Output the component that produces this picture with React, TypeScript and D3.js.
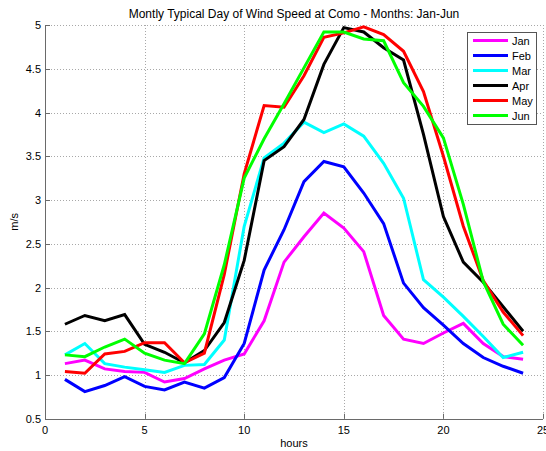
import React, { useEffect, useRef } from "react";
import * as d3 from "d3";

const hours = [1, 2, 3, 4, 5, 6, 7, 8, 9, 10, 11, 12, 13, 14, 15, 16, 17, 18, 19, 20, 21, 22, 23, 24];

const jan = [1.13, 1.17, 1.07, 1.04, 1.03, 0.92, 0.96, 1.07, 1.17, 1.24, 1.62, 2.29, 2.58, 2.85, 2.68, 2.41, 1.68, 1.41, 1.36, 1.48, 1.59, 1.36, 1.21, 1.18];
const feb = [0.95, 0.81, 0.88, 0.98, 0.87, 0.83, 0.92, 0.85, 0.97, 1.36, 2.2, 2.66, 3.21, 3.44, 3.38, 3.08, 2.73, 2.05, 1.77, 1.57, 1.36, 1.2, 1.1, 1.02];
const mar = [1.23, 1.36, 1.13, 1.09, 1.06, 1.03, 1.11, 1.12, 1.4, 2.7, 3.48, 3.65, 3.89, 3.77, 3.87, 3.73, 3.42, 3.02, 2.09, 1.89, 1.67, 1.44, 1.2, 1.26];
const apr = [1.58, 1.68, 1.62, 1.69, 1.35, 1.26, 1.14, 1.28, 1.6, 2.31, 3.45, 3.61, 3.92, 4.55, 4.97, 4.92, 4.74, 4.6, 3.75, 2.81, 2.29, 2.06, 1.78, 1.5];
const may = [1.04, 1.02, 1.24, 1.27, 1.37, 1.37, 1.14, 1.25, 2.15, 3.3, 4.08, 4.06, 4.42, 4.86, 4.91, 4.98, 4.89, 4.7, 4.24, 3.5, 2.7, 2.08, 1.72, 1.45];
const jun = [1.23, 1.21, 1.32, 1.41, 1.25, 1.17, 1.13, 1.47, 2.26, 3.25, 3.7, 4.1, 4.51, 4.92, 4.92, 4.84, 4.82, 4.34, 4.07, 3.71, 2.95, 2.07, 1.58, 1.34];

const monthNames = ["Jan", "Feb", "Mar", "Apr", "May", "Jun"];
const monthColors = ["#ff00ff", "#0000ff", "#00ffff", "#000000", "#ff0000", "#00ff00"];

const xTicks = [0, 5, 10, 15, 20, 25];
const yTicks = [0.5, 1, 1.5, 2, 2.5, 3, 3.5, 4, 4.5, 5];

const FONT = "'Liberation Sans', Arial, Helvetica, sans-serif";

export default function App() {
  const ref = useRef<SVGSVGElement | null>(null);

  useEffect(() => {
    if (!ref.current) return;
    const svg = d3.select(ref.current);
    svg.selectAll("*").remove();

    const left = 45, right = 543, top = 25, bottom = 418.75;
    const x = d3.scaleLinear().domain([0, 25]).range([left, right]);
    const y = d3.scaleLinear().domain([0.5, 5]).range([bottom, top]);

    svg.append("rect").attr("width", 546).attr("height", 451).attr("fill", "#fff");

    // dotted grid
    const grid = svg.append("g").attr("stroke", "#a8a8a8").attr("stroke-width", 1).attr("stroke-dasharray", "1,2");
    grid.selectAll(".gx")
      .data(xTicks.filter(d => d > 0))
      .enter().append("line")
      .attr("x1", d => Math.round(x(d)) + 0.5).attr("x2", d => Math.round(x(d)) + 0.5)
      .attr("y1", top).attr("y2", bottom);
    grid.selectAll(".gy")
      .data(yTicks.filter(d => d > 0.5))
      .enter().append("line")
      .attr("y1", d => Math.round(y(d)) + 0.5).attr("y2", d => Math.round(y(d)) + 0.5)
      .attr("x1", left).attr("x2", right);

    // series
    const series = [jan, feb, mar, apr, may, jun];
    const line = d3.line<number>()
      .x((_, i) => x(hours[i]))
      .y(d => y(d));

    svg.selectAll(".series")
      .data(series)
      .enter().append("path")
      .attr("d", d => line(d))
      .attr("fill", "none")
      .attr("stroke", (_, i) => monthColors[i])
      .attr("stroke-width", 3)
      .attr("stroke-linejoin", "miter");

    // axes
    const axisColor = "#6a6a6a";
    svg.append("line")
      .attr("x1", left + 0.5).attr("x2", left + 0.5)
      .attr("y1", top).attr("y2", bottom + 0.5)
      .attr("stroke", axisColor);
    svg.append("line")
      .attr("x1", left).attr("x2", right)
      .attr("y1", Math.round(bottom) + 0.5).attr("y2", Math.round(bottom) + 0.5)
      .attr("stroke", axisColor);

    svg.selectAll(".xtick")
      .data(xTicks)
      .enter().append("line")
      .attr("x1", d => Math.round(x(d)) + 0.5).attr("x2", d => Math.round(x(d)) + 0.5)
      .attr("y1", bottom).attr("y2", bottom - 5)
      .attr("stroke", axisColor);
    svg.selectAll(".ytick")
      .data(yTicks)
      .enter().append("line")
      .attr("y1", d => Math.round(y(d)) + 0.5).attr("y2", d => Math.round(y(d)) + 0.5)
      .attr("x1", left).attr("x2", left + 5)
      .attr("stroke", axisColor);

    svg.selectAll(".xlabel")
      .data(xTicks)
      .enter().append("text")
      .attr("x", d => x(d))
      .attr("y", 434)
      .attr("text-anchor", "middle")
      .attr("font-family", FONT)
      .attr("font-size", 11)
      .text(d => String(d));

    svg.selectAll(".ylabel")
      .data(yTicks)
      .enter().append("text")
      .attr("x", 41)
      .attr("y", d => y(d) + 4)
      .attr("text-anchor", "end")
      .attr("font-family", FONT)
      .attr("font-size", 11)
      .text(d => String(d));

    svg.append("text")
      .attr("x", (left + right) / 2)
      .attr("y", 447)
      .attr("text-anchor", "middle")
      .attr("font-family", FONT)
      .attr("font-size", 11)
      .text("hours");

    svg.append("text")
      .attr("transform", `translate(18,${(top + bottom) / 2}) rotate(-90)`)
      .attr("text-anchor", "middle")
      .attr("font-family", FONT)
      .attr("font-size", 11)
      .text("m/s");

    svg.append("text")
      .attr("x", (left + right) / 2)
      .attr("y", 18)
      .attr("text-anchor", "middle")
      .attr("font-family", FONT)
      .attr("font-size", 12)
      .text("Montly Typical Day of Wind Speed at Como - Months: Jan-Jun");

    // legend
    const legend = svg.append("g");
    legend.append("rect")
      .attr("x", 467.5).attr("y", 32.5)
      .attr("width", 69).attr("height", 92)
      .attr("fill", "#fff")
      .attr("stroke", "#555");

    const rows = legend.selectAll(".row")
      .data(monthNames)
      .enter().append("g")
      .attr("transform", (_, i) => `translate(0,${40.5 + i * 15})`);
    rows.append("line")
      .attr("x1", 473).attr("x2", 508)
      .attr("y1", 0).attr("y2", 0)
      .attr("stroke", (_, i) => monthColors[i])
      .attr("stroke-width", 3);
    rows.append("text")
      .attr("x", 512)
      .attr("y", 4)
      .attr("font-family", FONT)
      .attr("font-size", 11)
      .text(d => d);
  }, []);

  return (
    <svg ref={ref} width={546} height={451} style={{ position: "absolute", left: 0, top: 0 }} />
  );
}
